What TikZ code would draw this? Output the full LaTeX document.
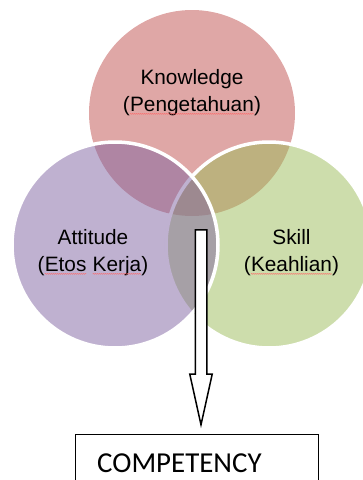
\documentclass[tikz,border=0pt]{standalone}
\usepackage{fontspec}
\setmainfont{Liberation Sans}
\newfontfamily\calibri{Carlito}
\usetikzlibrary{shapes.arrows, decorations.pathmorphing}

\definecolor{knowred}{HTML}{C0504D}
\definecolor{attpurple}{HTML}{8064A2}
\definecolor{skillgreen}{HTML}{9BBB59}

% red spell-check squiggle under a word
\tikzset{typoline/.style={draw=red!60!white, line width=0.45pt, decorate,
    decoration={snake, amplitude=0.4pt, segment length=2pt}}}
\newcommand{\typo}[1]{\tikz[baseline=(tw.base)]{\node[inner sep=0pt, outer sep=0pt] (tw) {#1};
    \draw[typoline] ([yshift=-2pt]tw.base west) -- ([yshift=-2pt]tw.base east);}}

\begin{document}
\begin{tikzpicture}[
        x=1pt, y=-1pt,
        % Define styles for the Venn circles and labels
        venn/.style={circle, minimum size=206pt, inner sep=0pt, fill opacity=0.5, draw opacity=1},
        rim/.style={draw=white, line width=3.5pt},
        lbl/.style={align=center, inner sep=0pt, font=\fontsize{20.8}{27}\selectfont},
        flow/.style={single arrow, draw, fill=white, line width=1.5pt, rotate=-90,
            minimum height=195pt, minimum width=21pt, inner sep=5pt,
            single arrow head extend=5.5pt, single arrow tip angle=25},
        result/.style={rectangle, draw, line width=1.2pt, minimum height=64pt, minimum width=243pt},
        resulttxt/.style={inner sep=0pt, font=\calibri\fontsize{28.9}{34}\selectfont}
    ]
    \useasboundingbox (0,0) rectangle (363,480);

    % --- Circles ---
    \node [venn, fill=knowred] (know) at (192,113) {};
    \node [venn, rim, fill=skillgreen] (skill) at (269,245) {};
    \node [venn, rim, fill=attpurple] (att) at (115,245) {};

    % --- Labels ---
    \node [lbl] (knowtxt) at (192,93) {Knowledge\\(\typo{Pengetahuan})};
    \node [lbl] (atttxt) at (93,253) {Attitude\\(\typo{Etos} \typo{Kerja})};
    \node [lbl] (skilltxt) at (291.5,253) {Skill\\(\typo{Keahlian})};

    % --- Block arrow and result ---
    \node [flow, anchor=tail] (down) at (201,229) {};
    \node [result, anchor=north west] (comp) at (75,434) {};
    \node [resulttxt, anchor=base west] (comptxt) at ([xshift=22pt, yshift=-38pt]comp.north west) {COMPETENCY};

\end{tikzpicture}
\end{document}
